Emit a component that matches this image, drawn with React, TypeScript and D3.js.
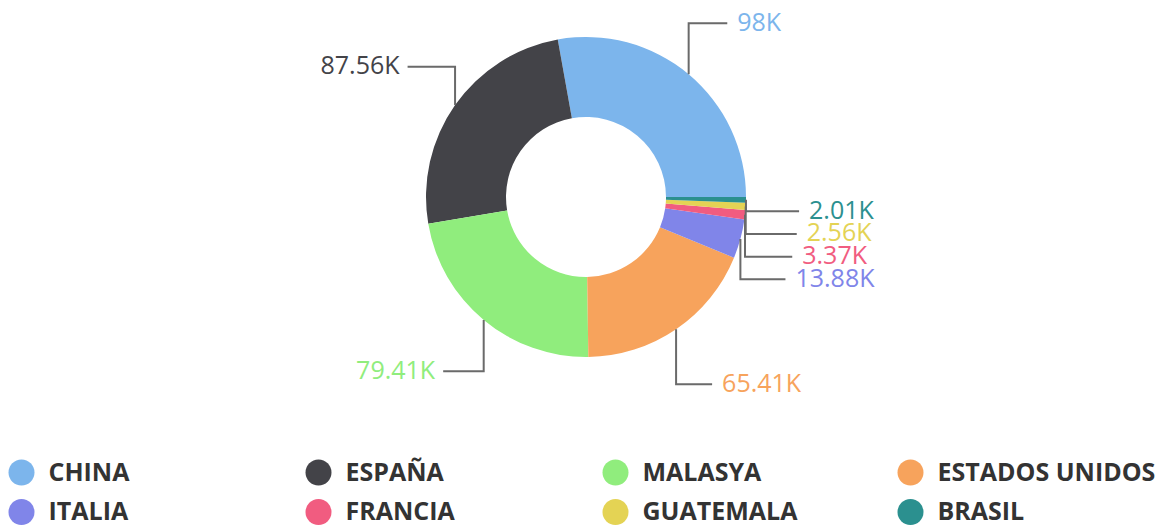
import React from "react";
import * as d3 from "d3";

const categories = ["CHINA", "ESPAÑA", "MALASYA", "ESTADOS UNIDOS", "ITALIA", "FRANCIA", "GUATEMALA", "BRASIL"];
const values = [98000, 87560, 79410, 65410, 13880, 3370, 2560, 2010];
const colors = ["#7cb5ec", "#434348", "#90ed7d", "#f7a35c", "#8085e9", "#f15c80", "#e4d354", "#2b908f"];

const W = 1166, H = 526;
const cx = 586, cy = 197, R = 160, R0 = 80;
const LR = 226.5; // label radius (vertical target)
const RX = 223.5; // horizontal label radius
const RY = 236;
const GAP = 22.7;

type Item = { name: string; value: number; color: string; i: number };

function fmt(v: number) {
  return `${+(v / 1000).toFixed(2)}K`;
}

function distribute(labels: { target: number; w: number; y: number }[]) {
  const sorted = [...labels].sort((a, b) => a.target - b.target);
  const clusters = sorted.map((l) => {
    const w = Math.pow(l.w, 1.3);
    return { items: [l], w, t: l.target * w };
  });
  const place = (c: any) => {
    const mean = c.t / c.w;
    const n = c.items.length;
    const start = mean - ((n - 1) * GAP) / 2;
    c.items.forEach((it: any, k: number) => (it.y = start + k * GAP));
  };
  clusters.forEach(place);
  let changed = true;
  while (changed) {
    changed = false;
    for (let k = 0; k < clusters.length - 1; k++) {
      const a = clusters[k], b = clusters[k + 1];
      const aLast = a.items[a.items.length - 1].y;
      const bFirst = b.items[0].y;
      if (bFirst - aLast < GAP) {
        const m = { items: [...a.items, ...b.items], w: a.w + b.w, t: a.t + b.t };
        place(m);
        clusters.splice(k, 2, m);
        changed = true;
        break;
      }
    }
  }
}

export default function App() {
  const items: Item[] = categories.map((name, i) => ({ name, value: values[i], color: colors[i], i }));
  const pie = d3
    .pie<Item>()
    .sort(null)
    .value((d) => d.value)
    .startAngle(Math.PI / 2)
    .endAngle(Math.PI / 2 - 2 * Math.PI);
  const arcs = pie(items);
  const arc = d3.arc<d3.PieArcDatum<Item>>().innerRadius(R0).outerRadius(R);

  const labels = arcs.map((a) => {
    const mid = (a.startAngle + a.endAngle) / 2;
    const s = Math.sin(mid), c = Math.cos(mid);
    return {
      a,
      right: s >= 0,
      ox: cx + R * s,
      oy: cy - R * c,
      target: cy - LR * c,
      w: a.data.value / 1000,
      y: 0,
    };
  });
  distribute(labels.filter((l) => l.right));
  distribute(labels.filter((l) => !l.right));

  const legendCols = [21.5, 318.5, 615.5, 910.5];
  const legendRows = [472.5, 512];
  const legendBase = [481, 519.5];

  return (
    <svg
      width={W}
      height={H}
      style={{ position: "absolute", left: 0, top: 0, background: "#fff" }}
      fontFamily="'Open Sans', sans-serif"
    >
      <g>
        {arcs.map((a, k) => (
          <path key={k} d={arc(a) as string} transform={`translate(${cx},${cy})`} fill={a.data.color} />
        ))}
      </g>
      <g>
        {labels.map((l, k) => {
          const dy = l.y - cy;
          const dx = RX * Math.sqrt(Math.max(0, 1 - (dy / RY) * (dy / RY)));
          if (l.right) {
            const tx = cx + dx;
            const ce = tx - 10;
            return (
              <g key={k}>
                <path d={`M${l.ox},${l.oy}V${l.y}H${ce}`} fill="none" stroke="#6a6a6a" strokeWidth={2} />
                <text x={tx} y={l.y} dy="0.3em" fontSize={25} fill={l.a.data.color}>
                  {fmt(l.a.data.value)}
                </text>
              </g>
            );
          } else {
            const tx = cx - dx;
            const cs = tx + 8;
            return (
              <g key={k}>
                <path d={`M${l.ox},${l.oy}V${l.y}H${cs}`} fill="none" stroke="#6a6a6a" strokeWidth={2} />
                <text x={tx} y={l.y} dy="0.3em" fontSize={25} textAnchor="end" fill={l.a.data.color}>
                  {fmt(l.a.data.value)}
                </text>
              </g>
            );
          }
        })}
      </g>
      <g>
        {items.map((d, i) => {
          const x = legendCols[i % 4];
          const r = Math.floor(i / 4);
          return (
            <g key={i}>
              <circle cx={x} cy={legendRows[r]} r={13} fill={d.color} />
              <text x={x + 27} y={legendBase[r]} fontSize={25} fontWeight="bold" fill="#333333">
                {d.name}
              </text>
            </g>
          );
        })}
      </g>
    </svg>
  );
}
